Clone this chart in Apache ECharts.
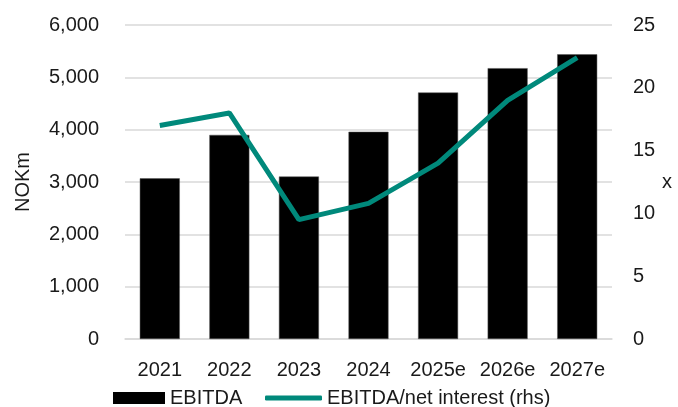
<!DOCTYPE html>
<html>
<head>
<meta charset="utf-8">
<script src="https://cdn.jsdelivr.net/npm/echarts@6/dist/echarts.min.js"></script>
<style>
    html, body { margin: 0; padding: 0; background: #fff; }
    #chart { width: 678px; height: 407px; }
</style>
</head>
<body>
<div id="chart"></div>
<script>
// values
const years = ['2021', '2022', '2023', '2024', '2025e', '2026e', '2027e'];
const ebitda = [3070, 3900, 3105, 3960, 4710, 5175, 5440];
const coverage = [17.0, 18.0, 9.5, 10.8, 14.0, 19.0, 22.4];

const font = 'Liberation Sans, Arial, sans-serif';
const textColor = '#1a1a1a';
const gridColor = '#d9d9d9';
const teal = '#00897b';

const myChart = echarts.init(document.getElementById('chart'));

const legendText = { fontSize: 20, color: textColor, fontFamily: font };

const option = {
    animation: false,
    textStyle: { fontFamily: font, color: textColor },
    grid: { left: 125, right: 66, top: 25, bottom: 68, outerBoundsMode: 'none', containLabel: false },
    legend: [
        {
            left: 108,
            top: 383,
            itemWidth: 52,
            itemHeight: 12,
            itemGap: 6,
            textStyle: legendText,
            itemStyle: { borderWidth: 0 },
            data: [{ name: 'EBITDA', icon: 'rect' }]
        },
        {
            left: 260,
            top: 383,
            itemWidth: 57,
            itemHeight: 5,
            textStyle: legendText,
            data: [{ name: 'EBITDA/net interest (rhs)', icon: 'roundRect' }]
        }
    ],
    xAxis: {
        type: 'category',
        data: years,
        axisLine: { lineStyle: { color: gridColor, width: 1.5 } },
        axisTick: { show: false },
        axisLabel: { fontSize: 20, color: textColor, margin: 21, interval: 0 }
    },
    yAxis: [
        {
            type: 'value',
            min: 0,
            max: 6000,
            interval: 1000,
            name: 'NOKm',
            nameLocation: 'middle',
            nameGap: 92,
            nameTextStyle: { fontSize: 20, color: textColor },
            axisLabel: {
                fontSize: 20,
                color: textColor,
                margin: 26,
                formatter: function (v) { return v.toLocaleString('en-US'); }
            },
            splitLine: { lineStyle: { color: gridColor, width: 1.5 } }
        },
        {
            type: 'value',
            min: 0,
            max: 25,
            interval: 5,
            name: 'x',
            nameLocation: 'middle',
            nameGap: 50,
            nameRotate: 0,
            nameTextStyle: { fontSize: 20, color: textColor },
            axisLabel: { fontSize: 20, color: textColor, margin: 21 },
            splitLine: { show: false }
        }
    ],
    series: [
        {
            name: 'EBITDA',
            type: 'bar',
            data: ebitda,
            barWidth: 40,
            itemStyle: { color: '#000', borderColor: '#555', borderWidth: 0.5 }
        },
        {
            name: 'EBITDA/net interest (rhs)',
            type: 'line',
            yAxisIndex: 1,
            data: coverage,
            symbol: 'none',
            lineStyle: { color: teal, width: 5 },
            itemStyle: { color: teal }
        }
    ]
};

option && myChart.setOption(option);
</script>
</body>
</html>
